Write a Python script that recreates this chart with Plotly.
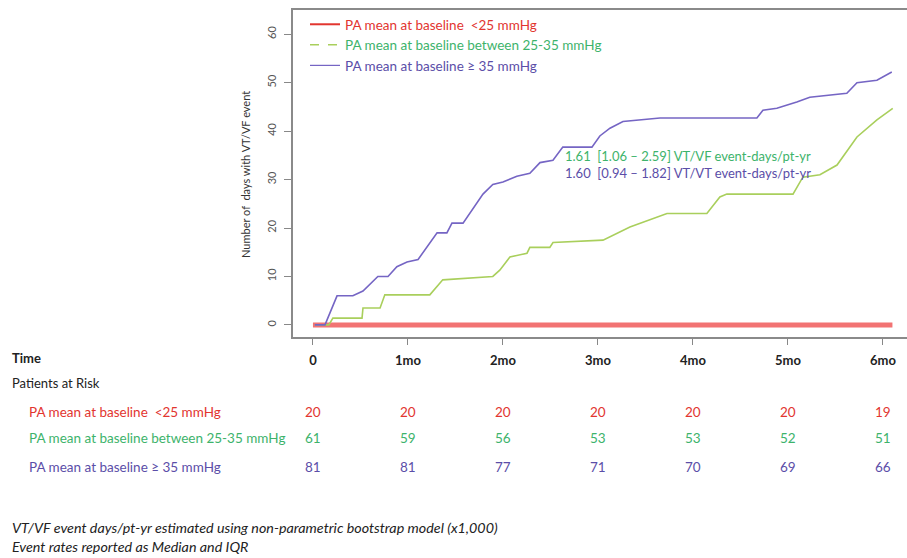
import plotly.graph_objects as go

# ---- curve data: cumulative number of days with VT/VF event vs. follow-up day ----
lt25_days = [0, 183]
lt25_vals = [0, 0]

mid_days = [0.6, 5.0, 6.3, 15.5, 15.8, 21.2, 22.7, 36.9, 41.0, 56.8, 59.0, 62.2, 67.6, 68.5,
            74.8, 75.8, 91.6, 97.9, 100.1, 111.8, 124.4, 128.5, 130.7, 151.6, 154.7, 160.1,
            165.5, 171.8, 178.1, 183.1]
mid_vals = [0, 0, 1.4, 1.4, 3.5, 3.5, 6.2, 6.2, 9.3, 10, 11.3, 14, 14.8, 16,
            16, 17, 17.5, 19.6, 20.2, 23, 23, 26.4, 27, 27, 30.5, 31,
            33, 38.8, 42.3, 44.7]

ge35_days = [0.6, 3.8, 7.6, 12.6, 15.8, 20.5, 23.7, 26.5, 29.7, 33.2, 39.2, 42.3, 43.9, 47.4,
             53.7, 56.8, 60.0, 64.4, 68.5, 71.7, 75.8, 78.9, 88.1, 90.6, 93.8, 97.9, 109.6,
             140.2, 142.1, 146.5, 152.8, 156.9, 168.6, 171.8, 178.1, 182.8]
ge35_vals = [0, 0, 6, 6, 7, 10, 10, 12, 13, 13.5, 19, 19, 21, 21,
             27, 29, 29.5, 30.7, 31.3, 33.5, 34, 36.7, 36.7, 39, 40.6, 42, 42.7,
             42.7, 44.3, 44.7, 46, 47, 47.8, 50, 50.5, 52.2]

# ---- axis ticks and risk table ----
tick_days = [0, 30, 60, 90, 120, 150, 180]
tick_labels = ["0", "1mo", "2mo", "3mo", "4mo", "5mo", "6mo"]
y_ticks = [0, 10, 20, 30, 40, 50, 60]

group_names = ["PA mean at baseline  <25 mmHg",
               "PA mean at baseline between 25-35 mmHg",
               "PA mean at baseline \u2265 35 mmHg"]
risk_lt25 = [20, 20, 20, 20, 20, 20, 19]
risk_mid = [61, 59, 56, 53, 53, 52, 51]
risk_ge35 = [81, 81, 77, 71, 70, 69, 66]

rate_mid = "1.61  [1.06 \u2013 2.59] VT/VF event-days/pt-yr"
rate_ge35 = "1.60  [0.94 \u2013 1.82] VT/VT event-days/pt-yr"

footnotes = ["VT/VF event days/pt-yr estimated using non-parametric bootstrap model (x1,000)",
             "Event rates reported as Median and IQR"]

RED_TXT, GREEN_TXT, PURPLE_TXT = "#e2352f", "#3db36b", "#5b4ea8"
RED_LN, GREEN_LN, PURPLE_LN = "#f27373", "#a9cf5c", "#7565c4"
FONT = "Lato"

W, H = 907, 558
ML, MR, MT, MB = 293, 0, 10, 221
PLOT_H = H - MT - MB


def py(pix):
    """Vertical pixel position -> paper coordinate."""
    return (H - MB - pix) / PLOT_H


def px(pix):
    """Horizontal pixel position -> paper coordinate."""
    return (pix - ML) / (W - ML - MR)


fig = go.Figure()

# curves
fig.add_trace(go.Scatter(x=lt25_days, y=lt25_vals, mode="lines",
                         line=dict(color=RED_LN, width=5), showlegend=False))
fig.add_trace(go.Scatter(x=mid_days, y=mid_vals, mode="lines",
                         line=dict(color=GREEN_LN, width=1.6), showlegend=False))
fig.add_trace(go.Scatter(x=ge35_days, y=ge35_vals, mode="lines",
                         line=dict(color=PURPLE_LN, width=1.6), showlegend=False))

# legend entries
legend_styles = [(RED_TXT, "solid", 2, RED_TXT),
                 (GREEN_LN, "dash", 1.5, GREEN_TXT),
                 (PURPLE_LN, "solid", 1.2, PURPLE_TXT)]
for name, (lc, dash, lw, tc) in zip(group_names, legend_styles):
    fig.add_trace(go.Scatter(x=[None], y=[None], mode="lines",
                             name=f'<span style="color:{tc}">{name}</span>',
                             line=dict(color=lc, dash=dash, width=lw)))

annotations = []

# event-rate labels
annotations.append(dict(x=79, y=34.8, xref="x", yref="y", text=rate_mid, showarrow=False,
                        xanchor="left", yanchor="middle",
                        font=dict(family=FONT, size=13, color=GREEN_TXT)))
annotations.append(dict(x=79, y=31.3, xref="x", yref="y", text=rate_ge35, showarrow=False,
                        xanchor="left", yanchor="middle",
                        font=dict(family=FONT, size=13, color=PURPLE_TXT)))

# y-axis title
annotations.append(dict(x=px(245), y=py(175), xref="paper", yref="paper",
                        text="Number of  days with VT/VF event", textangle=-90,
                        showarrow=False, xanchor="center", yanchor="middle",
                        font=dict(family=FONT, size=11, color="#333333")))

# risk table
annotations.append(dict(x=px(10), y=py(358), xref="paper", yref="paper", text="<b>Time</b>",
                        showarrow=False, xanchor="left", yanchor="middle",
                        font=dict(family=FONT, size=13, color="#222222")))
annotations.append(dict(x=px(10), y=py(383), xref="paper", yref="paper", text="Patients at Risk",
                        showarrow=False, xanchor="left", yanchor="middle",
                        font=dict(family=FONT, size=13, color="#222222")))

rows = [(risk_lt25, RED_TXT, 412), (risk_mid, GREEN_TXT, 438), (risk_ge35, PURPLE_TXT, 467)]
for name, (vals, col, ypix) in zip(group_names, rows):
    annotations.append(dict(x=px(27), y=py(ypix), xref="paper", yref="paper", text=name,
                            showarrow=False, xanchor="left", yanchor="middle",
                            font=dict(family=FONT, size=13.5, color=col)))
    for d, v in zip(tick_days, vals):
        annotations.append(dict(x=d, y=py(ypix), xref="x", yref="paper", text=str(v),
                                showarrow=False, xanchor="center", yanchor="middle",
                                font=dict(family=FONT, size=13.5, color=col)))

for text, ypix in zip(footnotes, [527, 546]):
    annotations.append(dict(x=px(10), y=py(ypix), xref="paper", yref="paper",
                            text="<i>" + text + "</i>", showarrow=False,
                            xanchor="left", yanchor="middle",
                            font=dict(family=FONT, size=14.3, color="#222222")))

fig.update_layout(
    width=W, height=H,
    margin=dict(l=ML, r=MR, t=MT, b=MB, autoexpand=False),
    paper_bgcolor="white", plot_bgcolor="white",
    font=dict(family=FONT, size=12, color="#222222"),
    legend=dict(x=px(305), y=py(9), xref="paper", yref="paper",
                xanchor="left", yanchor="top", bgcolor="rgba(0,0,0,0)",
                itemwidth=30, tracegroupgap=0,
                font=dict(family=FONT, size=13.5)),
    annotations=annotations,
    xaxis=dict(range=[-6.3, 187.6], tickvals=tick_days,
               ticktext=["<b>" + t + "</b>" for t in tick_labels],
               ticks="outside", ticklen=6, tickcolor="#888888",
               showline=True, linecolor="#8a8a8a", linewidth=1.5, mirror=True,
               showgrid=False, zeroline=False, ticklabelstandoff=5,
               tickfont=dict(family=FONT, size=13, color="#222222")),
    yaxis=dict(range=[-2.5, 65], tickvals=y_ticks, tickangle=-90,
               ticks="outside", ticklen=7, tickcolor="#888888",
               showline=True, linecolor="#8a8a8a", linewidth=1.5,
               showgrid=False, zeroline=False, ticklabelstandoff=4,
               tickfont=dict(family=FONT, size=11, color="#555555")),
)

fig.write_html("out.html")
